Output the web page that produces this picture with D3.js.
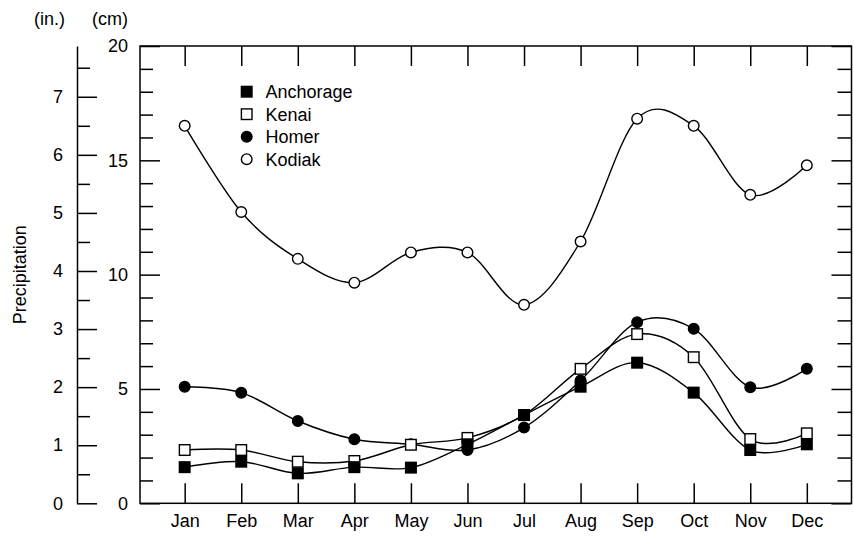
<!DOCTYPE html>
<html>
<head>
<meta charset="utf-8">
<script src="https://cdn.jsdelivr.net/npm/d3@7"></script>
<style>
  html, body { margin: 0; padding: 0; background: #fff; }
  svg { display: block; font-family: "Liberation Sans", Arial, Helvetica, sans-serif; }
</style>
</head>
<body>
<svg id="chart" width="854" height="538"></svg>
<script>
// ---- Data (precipitation in cm) ----
const months = ["Jan","Feb","Mar","Apr","May","Jun","Jul","Aug","Sep","Oct","Nov","Dec"];
const anchorage = [1.58, 1.82, 1.31, 1.58, 1.56, 2.58, 3.86, 5.10, 6.15, 4.84, 2.33, 2.58];
const kenai     = [2.33, 2.33, 1.82, 1.85, 2.56, 2.86, 3.86, 5.88, 7.40, 6.39, 2.81, 3.06];
const homer     = [5.10, 4.84, 3.60, 2.80, 2.58, 2.33, 3.31, 5.37, 7.92, 7.63, 5.08, 5.88];
const kodiak    = [16.51, 12.74, 10.69, 9.65, 10.97, 10.97, 8.68, 11.45, 16.82, 16.51, 13.49, 14.78];
const seriesNames = ["Anchorage", "Kenai", "Homer", "Kodiak"];
const cmTicks = [0, 5, 10, 15, 20];
const inchTicks = [0, 1, 2, 3, 4, 5, 6, 7];

const series = [
  { name: "Kodiak", values: kodiak, shape: "circle", fill: "#fff" },
  { name: "Homer", values: homer, shape: "circle", fill: "#000" },
  { name: "Kenai", values: kenai, shape: "square", fill: "#fff" },
  { name: "Anchorage", values: anchorage, shape: "square", fill: "#000" }
];

const svg = d3.select("#chart");
const pL = 140, pR = 851.5, pT = 46, pB = 503.3;

const x = d3.scalePoint().domain(months).range([pL, pR]).padding(0.79);
const y = d3.scaleLinear().domain([0, 20]).range([pB, pT]);
const yIn = d3.scaleLinear().domain([0, 20 / 2.54]).range([pB, pT]);

const FS = 18;

// Plot frame
svg.append("rect")
  .attr("x", pL).attr("y", pT)
  .attr("width", pR - pL).attr("height", pB - pT)
  .attr("fill", "none").attr("stroke", "#000").attr("stroke-width", 1.5);

function styleAxis(g) {
  g.selectAll("path.domain").attr("stroke", "#000").attr("stroke-width", 1.5);
  g.selectAll(".tick line").attr("stroke", "#000").attr("stroke-width", 1.5);
  g.selectAll(".tick text").attr("fill", "#000").attr("font-size", FS)
    .attr("font-family", "Liberation Sans, Arial, sans-serif");
}

// cm axis (left frame) - major ticks with labels
const cmMajor = svg.append("g").attr("transform", `translate(${pL},0)`)
  .call(d3.axisLeft(y).tickValues(cmTicks).tickSize(-20).tickSizeOuter(0).tickPadding(12).tickFormat(d3.format("d")));
cmMajor.select("path.domain").remove();
styleAxis(cmMajor);
// cm minor ticks
const cmMinor = svg.append("g").attr("transform", `translate(${pL},0)`)
  .call(d3.axisLeft(y).tickValues(d3.range(1, 20).filter(d => d % 5 !== 0)).tickSize(-13).tickSizeOuter(0).tickFormat(""));
cmMinor.select("path.domain").remove();
styleAxis(cmMinor);

// right frame ticks
const rMajor = svg.append("g").attr("transform", `translate(${pR},0)`)
  .call(d3.axisRight(y).tickValues(cmTicks).tickSize(-20).tickSizeOuter(0).tickFormat(""));
rMajor.select("path.domain").remove();
styleAxis(rMajor);
const rMinor = svg.append("g").attr("transform", `translate(${pR},0)`)
  .call(d3.axisRight(y).tickValues(d3.range(1, 20).filter(d => d % 5 !== 0)).tickSize(-14).tickSizeOuter(0).tickFormat(""));
rMinor.select("path.domain").remove();
styleAxis(rMinor);

// inch axis
const inAxisX = 77;
const inMajor = svg.append("g").attr("transform", `translate(${inAxisX},0)`)
  .call(d3.axisLeft(yIn).tickValues(inchTicks).tickSize(-20).tickSizeOuter(0).tickPadding(14).tickFormat(d3.format("d")));
styleAxis(inMajor);
const inMinor = svg.append("g").attr("transform", `translate(${inAxisX},0)`)
  .call(d3.axisLeft(yIn).tickValues(d3.range(0.5, 7.6, 1)).tickSize(-13).tickSizeOuter(0).tickFormat(""));
inMinor.select("path.domain").remove();
styleAxis(inMinor);

// bottom month axis
const xBottom = svg.append("g").attr("transform", `translate(0,${pB})`)
  .call(d3.axisBottom(x).tickSize(-20).tickSizeOuter(0).tickPadding(11));
xBottom.select("path.domain").remove();
styleAxis(xBottom);
// top month ticks
const xTop = svg.append("g").attr("transform", `translate(0,${pT})`)
  .call(d3.axisTop(x).tickSize(-20).tickSizeOuter(0).tickFormat(""));
xTop.select("path.domain").remove();
styleAxis(xTop);

// axis titles
svg.append("text").attr("x", 65).attr("y", 25).attr("text-anchor", "end")
  .attr("font-size", FS).text("(in.)");
svg.append("text").attr("x", 128).attr("y", 25).attr("text-anchor", "end")
  .attr("font-size", FS).text("(cm)");
svg.append("text")
  .attr("transform", `translate(26,${(pT + pB) / 2}) rotate(-90)`)
  .attr("text-anchor", "middle").attr("font-size", FS).text("Precipitation");

// lines
const line = d3.line()
  .x((d, i) => x(months[i]))
  .y(d => y(d))
  .curve(d3.curveCardinal.tension(0));

series.forEach(s => {
  svg.append("path").datum(s.values)
    .attr("d", line).attr("fill", "none")
    .attr("stroke", "#000").attr("stroke-width", 1.4);
});

// markers
function drawMarker(g, shape, fill, cx, cy) {
  if (shape === "circle") {
    g.append("circle").attr("cx", cx).attr("cy", cy).attr("r", 5.3)
      .attr("fill", fill).attr("stroke", "#000").attr("stroke-width", 1.4);
  } else {
    g.append("rect").attr("x", cx - 5.3).attr("y", cy - 5.3)
      .attr("width", 10.6).attr("height", 10.6)
      .attr("fill", fill).attr("stroke", "#000").attr("stroke-width", 1.4);
  }
}
series.forEach(s => {
  const g = svg.append("g");
  s.values.forEach((v, i) => drawMarker(g, s.shape, s.fill, x(months[i]), y(v)));
});

// legend
const legendOrder = seriesNames.map(n => series.find(s => s.name === n));
const lg = svg.append("g");
legendOrder.forEach((s, i) => {
  const cy = 91.7 + i * 22.5;
  drawMarker(lg, s.shape, s.fill, 246.7, cy);
  lg.append("text").attr("x", 265.5).attr("y", cy).attr("dy", "0.36em")
    .attr("font-size", FS).text(s.name);
});
</script>
</body>
</html>
